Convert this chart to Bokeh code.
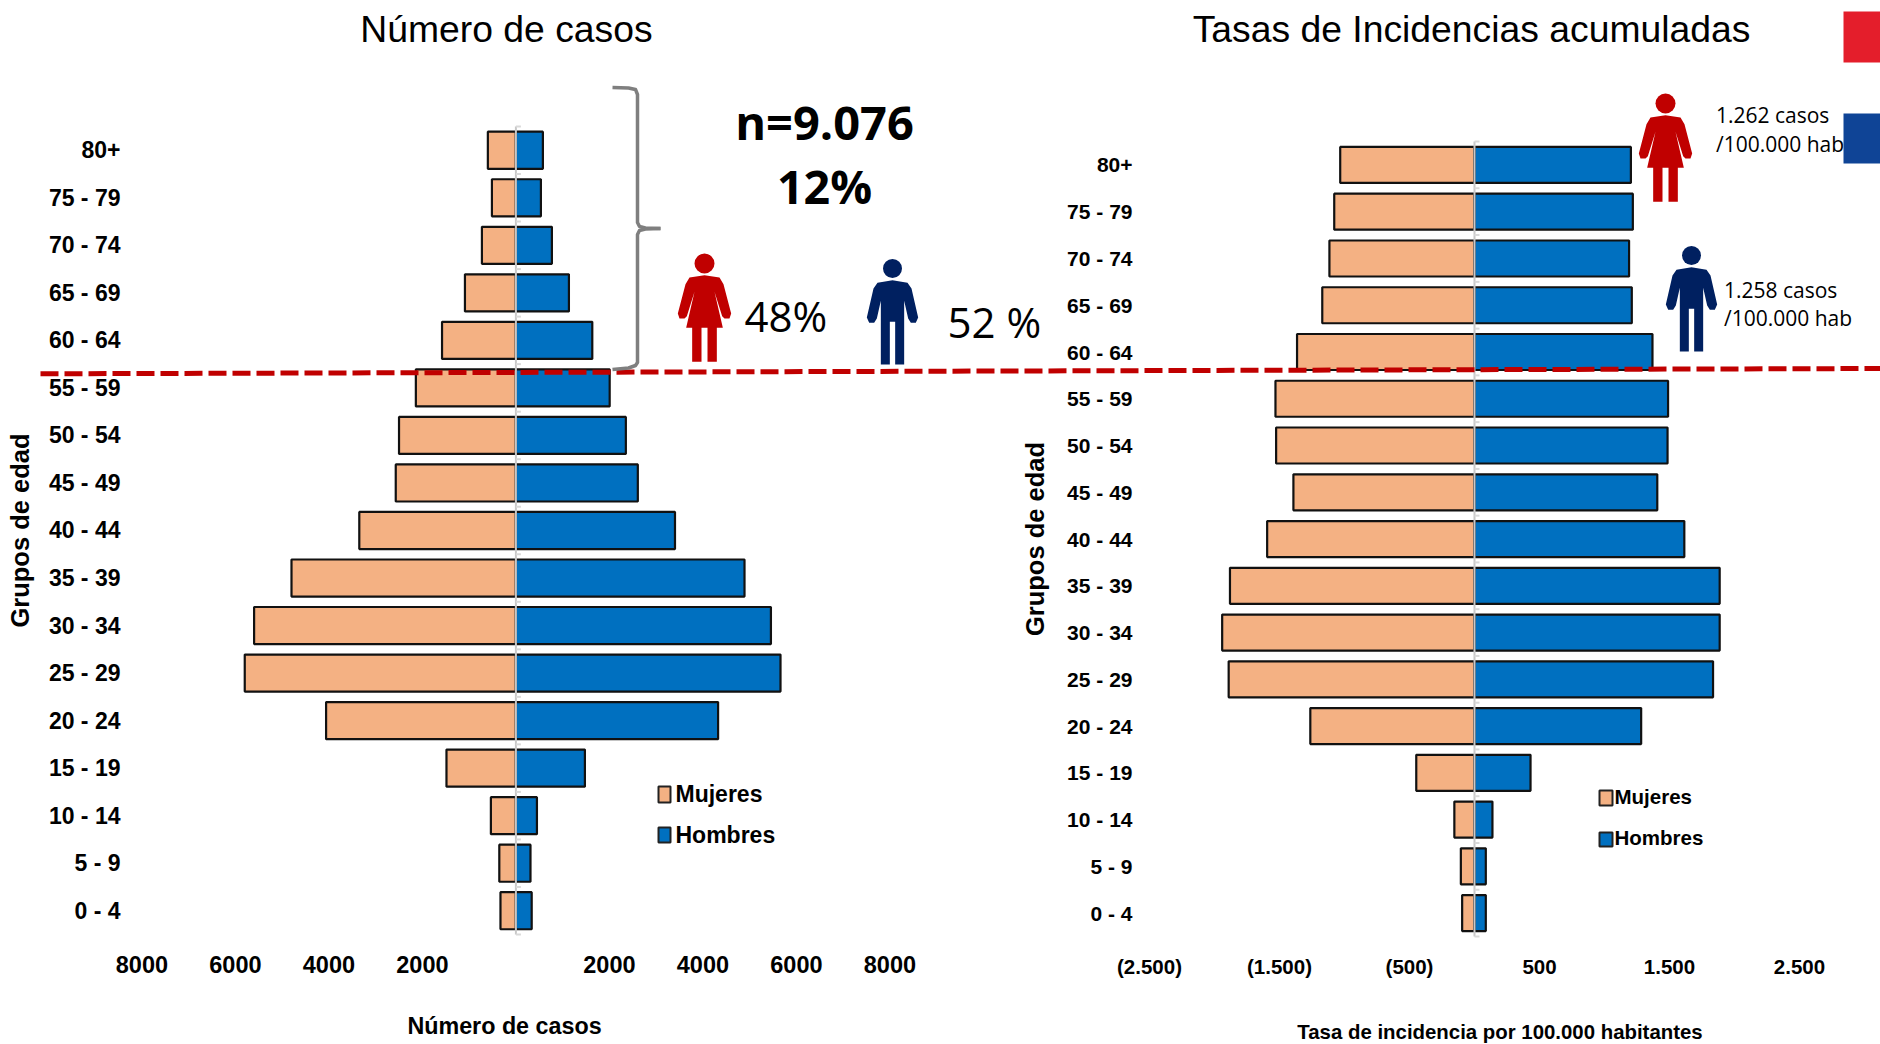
from bokeh.embed import file_html
from bokeh.resources import INLINE
from bokeh.plotting import figure
from bokeh.models import Range1d, LinearAxis, FixedTicker
from bokeh.core.properties import value

age_groups = ["0 - 4", "5 - 9", "10 - 14", "15 - 19", "20 - 24", "25 - 29", "30 - 34", "35 - 39", "40 - 44",
              "45 - 49", "50 - 54", "55 - 59", "60 - 64", "65 - 69", "70 - 74", "75 - 79", "80+"]
casos_mujeres = [330, 355, 535, 1485, 4060, 5800, 5600, 4800, 3350, 2570, 2500, 2140, 1580, 1090, 727, 513, 600]
casos_hombres = [338, 312, 450, 1476, 4325, 5660, 5455, 4890, 3403, 2608, 2352, 2006, 1634, 1134, 770, 535, 577]
tasa_mujeres = [95, 105, 155, 448, 1263, 1891, 1941, 1881, 1595, 1393, 1526, 1531, 1365, 1171, 1116, 1079, 1033]
tasa_hombres = [87, 87, 138, 431, 1282, 1835, 1886, 1886, 1614, 1406, 1485, 1489, 1369, 1210, 1189, 1218, 1203]
casos_ticks = [-8000, -6000, -4000, -2000, 2000, 4000, 6000, 8000]
casos_tick_labels = ["8000", "6000", "4000", "2000", "2000", "4000", "6000", "8000"]
tasa_ticks = [-2500, -1500, -500, 500, 1500, 2500]
tasa_tick_labels = ["(2.500)", "(1.500)", "(500)", "500", "1.500", "2.500"]

ORANGE, BLUE = "#F4B183", "#0070C0"
RED, NAVY = "#C00000", "#002060"
BOLD = "Liberation Sans"
W, H = 1880, 1044

p = figure(width=W, height=H, output_backend="svg", toolbar_location=None,
           x_axis_type=None, y_axis_type=None, min_border=0,
           x_range=Range1d(0, W), y_range=Range1d(H, 0))
p.outline_line_color = None


def panel(name, zero_px, px_per_unit, bottom_px, pitch, mujeres, hombres, ticks, labels, bar_h,
          axis_px, xtitle, xbounds, ystandoff, xstandoff, tick_standoff, fs_cat, fs_tick, fs_xt, fs_yt):
    xn, yn = "x" + name, "y" + name
    p.extra_x_ranges[xn] = Range1d(-zero_px / px_per_unit, (W - zero_px) / px_per_unit)
    p.extra_y_ranges[yn] = Range1d((bottom_px - H) / pitch, bottom_px / pitch)
    ys = [i + 0.5 for i in range(len(age_groups))]
    p.hbar(y=ys, height=bar_h, left=[-v for v in mujeres], right=0, fill_color=ORANGE, line_color="#111111",
           line_width=2.2, x_range_name=xn, y_range_name=yn)
    p.hbar(y=ys, height=bar_h, left=0, right=hombres, fill_color=BLUE, line_color="#111111",
           line_width=2.2, x_range_name=xn, y_range_name=yn)
    # central axis line with its small ticks between the age groups
    edges = list(range(len(age_groups) + 1))
    p.segment(x0=[0], x1=[0], y0=[edges[0]], y1=[edges[-1]], line_color="#C8C8C8", line_width=2,
              x_range_name=xn, y_range_name=yn)
    p.segment(x0=[0] * len(edges), x1=[5 / px_per_unit] * len(edges), y0=edges, y1=edges,
              line_color="#D9D9D9", line_width=2, x_range_name=xn, y_range_name=yn)
    # category axis
    ya = LinearAxis(x_range_name=xn, y_range_name=yn, fixed_location=(axis_px - zero_px) / px_per_unit,
                    bounds=(0, 17), ticker=FixedTicker(ticks=ys),
                    major_label_overrides=dict(zip(ys, age_groups)),
                    axis_line_color=None, major_tick_line_color=None, minor_tick_line_color=None,
                    major_tick_out=0, major_tick_in=0, major_label_standoff=8,
                    major_label_text_font=BOLD, major_label_text_font_style="bold",
                    major_label_text_font_size=fs_cat, major_label_text_color="#000000",
                    axis_label="Grupos de edad", axis_label_text_font=BOLD,
                    axis_label_text_font_style="bold", axis_label_text_font_size=fs_yt,
                    axis_label_text_color="#000000", axis_label_standoff=ystandoff)
    p.add_layout(ya, "left")
    # value axis
    xa = LinearAxis(x_range_name=xn, y_range_name=yn, fixed_location=0, bounds=xbounds,
                    ticker=FixedTicker(ticks=ticks), major_label_overrides=dict(zip(ticks, labels)),
                    axis_line_color=None, major_tick_line_color=None, minor_tick_line_color=None,
                    major_tick_out=0, major_tick_in=0, major_label_standoff=tick_standoff,
                    major_label_text_font=BOLD, major_label_text_font_style="bold",
                    major_label_text_font_size=fs_tick, major_label_text_color="#000000",
                    axis_label=xtitle, axis_label_text_font=BOLD, axis_label_text_font_style="bold",
                    axis_label_text_font_size=fs_xt, axis_label_text_color="#000000",
                    axis_label_standoff=xstandoff)
    p.add_layout(xa, "below")


panel("L", 515.4, 0.04675, 934, 47.53, casos_mujeres, casos_hombres, casos_ticks, casos_tick_labels, 0.78,
      128, "Número de casos", (-8580, 8100), 12, 37, 21, "23px", "23.5px", "23.3px", "25.5px")
panel("R", 1474, 0.13, 936, 46.76, tasa_mujeres, tasa_hombres, tasa_ticks, tasa_tick_labels, 0.77,
      1140, "Tasa de incidencia por 100.000 habitantes", (-2600, 2990), 15, 40, 18, "21px", "20.5px", "20.4px", "25.5px")


def text(x, y, s, size, font=BOLD, style="normal", align="left"):
    p.text(x=[x], y=[y], text=[s], text_font=value(font), text_font_size=value(size), text_font_style=style,
           text_align=align, text_baseline="middle", text_color="#000000")


# titles
text(506, 28, "Número de casos", "37.3px", align="center")
text(1471, 28, "Tasas de Incidencias acumuladas", "37.3px", align="center")

# legends
for (sx0, sx1, tx, fs, rows) in [(658, 670, 675, "23px", [(786, 802, 793, "Mujeres", ORANGE), (827, 842, 834, "Hombres", BLUE)]),
                                 (1599, 1612, 1614, "20.5px", [(790, 805, 796, "Mujeres", ORANGE), (832, 846, 837, "Hombres", BLUE)])]:
    for (y0, y1, ty, lab, col) in rows:
        p.quad(left=sx0, right=sx1, top=y0, bottom=y1, fill_color=col, line_color="#222222", line_width=2)
        text(tx, ty, lab, fs, style="bold")

# red dashed line
p.line(x=[40, 1880], y=[373.3, 368], line_color=RED, line_width=5, line_dash="18 6")

# brace
p.line(x=[612, 628, 635, 637, 637, 639, 645, 660], y=[87, 87.5, 89, 94, 222, 226, 227.5, 228],
       line_color="#7F7F7F", line_width=3.5, line_join="round")
p.line(x=[660, 645, 639, 637, 637, 635, 628, 612], y=[228, 228.5, 230, 234, 362, 365, 367.5, 369],
       line_color="#7F7F7F", line_width=3.5, line_join="round")

# annotations
text(824, 121, "n=9.076", "47px", font="Open Sans", style="bold", align="center")
text(824, 185, "12%", "46.5px", font="Open Sans", style="bold", align="center")
text(744, 315, "48%", "42px", font="Open Sans")
text(947, 321, "52 %", "42px", font="Open Sans")
text(1715.5, 114, "1.262 casos", "21px", font="Open Sans")
text(1715.5, 143, "/100.000 hab", "21px", font="Open Sans")
text(1723.5, 289, "1.258 casos", "21px", font="Open Sans")
text(1723.5, 317, "/100.000 hab", "21px", font="Open Sans")

# flag swatches
p.quad(left=1843, right=1880, top=11, bottom=62, fill_color="#E41E2B", line_color=None)
p.quad(left=1843, right=1880, top=113, bottom=163, fill_color="#0F4496", line_color=None)

# pictograms
WOMAN = [(0, 35), (45, 42), (57, 62), (80, 150), (75, 165), (60, 165), (53, 158), (30, 85), (55, 193),
         (37, 193), (37, 295), (9, 295), (9, 193), (0, 193)]
MAN = [(0, 35), (45, 43), (57, 60), (77, 147), (70, 163), (55, 163), (47, 150), (35, 97), (35, 288),
       (8, 288), (8, 160), (0, 160)]


def person(cx, cy, shape, col, r):
    half = [(a / 3, b / 3) for a, b in shape]
    pts = half + [(-a, b) for a, b in reversed(half)]
    p.patch(x=[cx + a for a, b in pts], y=[cy + b for a, b in pts], fill_color=col, line_color=None)
    p.circle(x=[cx], y=[cy], radius=r, fill_color=col, line_color=None)


person(704, 263, WOMAN, RED, 10)
person(892, 268, MAN, NAVY, 9.5)
person(1665, 103, WOMAN, RED, 10)
person(1691, 255, MAN, NAVY, 9.5)

open("out.html", "w").write(file_html(p, INLINE))
